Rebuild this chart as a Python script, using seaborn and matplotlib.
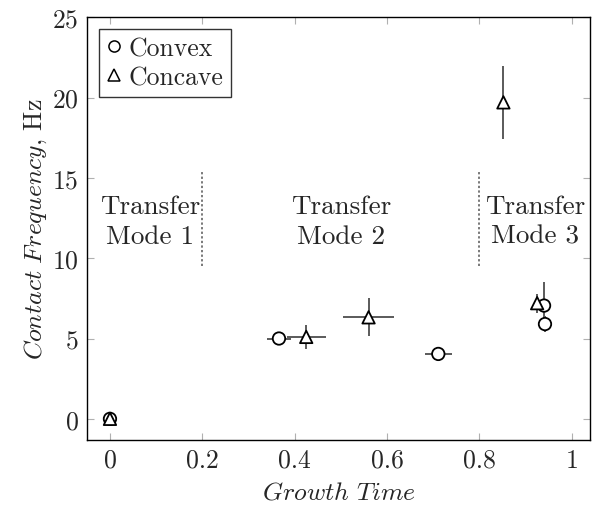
import matplotlib
matplotlib.use("Agg")
import matplotlib.pyplot as plt
from matplotlib.lines import Line2D
import numpy as np
import pandas as pd
import seaborn as sns

# Measured contact frequency vs normalised growth time
convex_t = [0.0, 0.366, 0.711, 0.940, 0.942]
convex_f = [0.0, 5.0, 4.04, 7.05, 5.9]
convex_terr = [0.0, 0.027, 0.029, 0.0, 0.0]
convex_ferr = [0.0, 0.0, 0.0, 1.45, 0.5]

concave_t = [0.0, 0.425, 0.560, 0.852, 0.925]
concave_f = [0.0, 5.1, 6.32, 19.7, 7.2]
concave_terr = [0.0, 0.042, 0.055, 0.0, 0.0]
concave_ferr = [0.0, 0.73, 1.18, 2.29, 0.6]

mode_labels = ["Transfer\nMode 1", "Transfer\nMode 2", "Transfer\nMode 3"]
mode_x = [0.087, 0.50, 0.92]
boundaries = [0.2, 0.8]

df = pd.concat([
    pd.DataFrame({"shape": "Convex", "t": convex_t, "f": convex_f,
                  "terr": convex_terr, "ferr": convex_ferr}),
    pd.DataFrame({"shape": "Concave", "t": concave_t, "f": concave_f,
                  "terr": concave_terr, "ferr": concave_ferr}),
], ignore_index=True)

sns.set_style("ticks")
plt.rcParams["font.family"] = ["cmr10"]
plt.rcParams["mathtext.fontset"] = "cm"
plt.rcParams["axes.formatter.use_mathtext"] = True
plt.rcParams["axes.unicode_minus"] = False

fig = plt.figure(figsize=(5.95, 5.06), dpi=100)
ax = fig.add_axes([0.146, 0.129, 0.846, 0.835])

# error bars behind the markers
for _, r in df.iterrows():
    xe = r["terr"] if r["terr"] > 0 else None
    ye = r["ferr"] if r["ferr"] > 0 else None
    if xe is None and ye is None:
        continue
    ax.errorbar(r["t"], r["f"], xerr=xe, yerr=ye, fmt="none",
                ecolor="#5a5a5a", elinewidth=1.4, capsize=0, zorder=2)

markers = {"Convex": "o", "Concave": "^"}
sns.scatterplot(data=df, x="t", y="f", style="shape", markers=markers,
                s=80, color="white", edgecolor="black", linewidth=1.3,
                legend=False, ax=ax, zorder=3)

# transfer mode boundaries and labels
for b in boundaries:
    ax.plot([b, b], [9.5, 15.4], color="#555555", lw=1.1,
            linestyle=(0, (1.5, 1.5)), zorder=1)
for x, lab in zip(mode_x, mode_labels):
    ax.text(x, 12.3, lab, ha="center", va="center", fontsize=19.5,
            linespacing=1.3)

ax.set_xlim(-0.05, 1.04)
ax.set_ylim(-1.3, 25)
ax.set_xticks([0, 0.2, 0.4, 0.6, 0.8, 1])
ax.set_xticklabels(["0", "0.2", "0.4", "0.6", "0.8", "1"])
ax.set_yticks([0, 5, 10, 15, 20, 25])
ax.tick_params(direction="in", length=5, width=0.8, color="#b0b0b0",
               labelsize=18.5, top=True, right=True, pad=6)
for sp in ax.spines.values():
    sp.set_linewidth(1.0)
    sp.set_color("black")

ax.set_xlabel(r"$\mathit{Growth\ Time}$", fontsize=18.5, labelpad=6)
ax.set_ylabel(r"$\mathit{Contact\ Frequency}$, Hz", fontsize=18.5, labelpad=2)

handles = [
    Line2D([], [], marker="o", linestyle="none", markersize=8,
           markerfacecolor="white", markeredgecolor="black", markeredgewidth=1.1),
    Line2D([], [], marker="^", linestyle="none", markersize=9,
           markerfacecolor="white", markeredgecolor="black", markeredgewidth=1.1),
]
leg = ax.legend(handles, ["Convex", "Concave"], loc="upper left",
                bbox_to_anchor=(0.024, 0.972), fontsize=18.5, frameon=True,
                fancybox=False, handlelength=0.6, handletextpad=0.25,
                borderpad=0.3, labelspacing=0.2, borderaxespad=0)
leg.get_frame().set_edgecolor("black")
leg.get_frame().set_linewidth(1.0)

fig.savefig("out.png", dpi=100)
